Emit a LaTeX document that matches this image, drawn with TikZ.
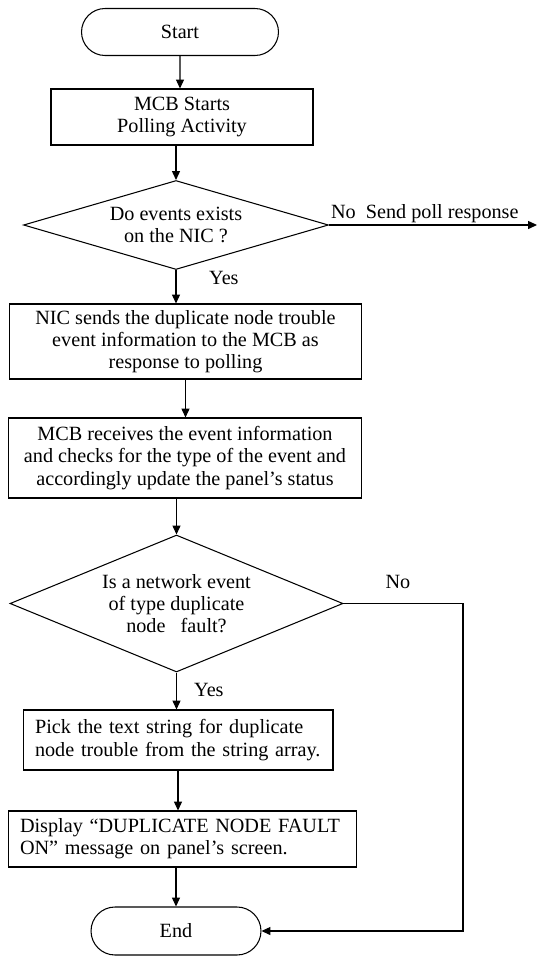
\documentclass[tikz,border=0pt]{standalone}
\usepackage{fontspec}
\setmainfont{Liberation Serif}
\usetikzlibrary{shapes.geometric,shapes.misc,arrows.meta}

\begin{document}
\begin{tikzpicture}[x=0.02cm,y=-0.02cm,>={Triangle[length=5pt,width=4.5pt]},
                    every node/.style={font=\fontsize{11.5}{12.6}\selectfont},
                    box/.style={draw=black,line width=0.6pt,rectangle,inner sep=0pt,align=center},
                    leftbox/.style={draw=black,line width=0.6pt,rectangle,inner xsep=0.24cm,inner ysep=0pt,align=left},
                    decision/.style={draw=black,line width=0.6pt,diamond,inner sep=0pt,align=center},
                    term/.style={draw=black,line width=0.6pt,rounded rectangle,inner sep=0pt}]
                \useasboundingbox (0,0) rectangle (537,957);
                \node (start) [term, minimum width=3.94cm, minimum height=0.94cm] at (180,32) {Start};
                \node (poll) [box, minimum width=5.24cm, minimum height=1.12cm] at (182,117) {MCB Starts\\Polling Activity};
                \node (q1) [decision, aspect=3.4, minimum width=6.1cm, minimum height=1.78cm] at (176,225) {Do events exists\\on the NIC ?};
                \node (nic) [box, minimum width=7.06cm, minimum height=1.5cm] at (185.5,341.5) {NIC sends the duplicate node trouble\\event information to the MCB as\\response to polling};
                \node (rx) [box, minimum width=7.08cm, minimum height=1.6cm] at (185,458) {MCB receives the event information\\and checks for the type of the event and\\accordingly update the panel’s status};
                \node (q2) [decision, aspect=2.4, minimum width=6.66cm, minimum height=2.74cm] at (176.5,603.5) {Is a network event\\of type duplicate\\node\ \ \ fault?};
                \node (pick) [leftbox, text width=5.72cm, minimum height=1.2cm] at (178,740) {Pick the text string for duplicate\\node trouble from the string array.};
                \node (display) [leftbox, text width=6.5cm, minimum height=1.12cm] at (182.5,839) {Display “DUPLICATE NODE FAULT\\ON” message on panel’s screen.};
                \node (end) [term, minimum width=3.4cm, minimum height=0.96cm] at (176,931) {End};
                % labels
                \node (no1) [anchor=south west, inner sep=1pt] at (q1.east) {No\ \ Send poll response};
                \node (yes1) [anchor=west] at (203,278) {Yes};
                \node (no2) at (398,582) {No};
                \node (yes2) [anchor=west] at (188,690) {Yes};
                \coordinate (pollout) at (537,225);
                \coordinate (turn1) at (463,603.5);
                \coordinate (turn2) at (463,931);
                \begin{scope}[every edge/.style={draw=black,line width=0.6pt}]
                    \draw (start) edge [->] (start |- poll.north);
                    \draw (q1.north |- poll.south) edge [->] (q1.north);
                    \draw (q1.east) edge [->] (pollout);
                    \draw (q1) edge [->] (q1 |- nic.north);
                    \draw (nic) edge [->] (nic |- rx.north);
                    \draw (q2.north |- rx.south) edge [->] (q2.north);
                    \draw (q2) edge [->] (q2 |- pick.north);
                    \draw (pick) edge [->] (pick |- display.north);
                    \draw (end.north |- display.south) edge [->] (end.north);
                    \draw [->, line width=0.6pt] (q2.east) -- (turn1) -- (turn2) -- (end.east);
                \end{scope}
\end{tikzpicture}
\end{document}
